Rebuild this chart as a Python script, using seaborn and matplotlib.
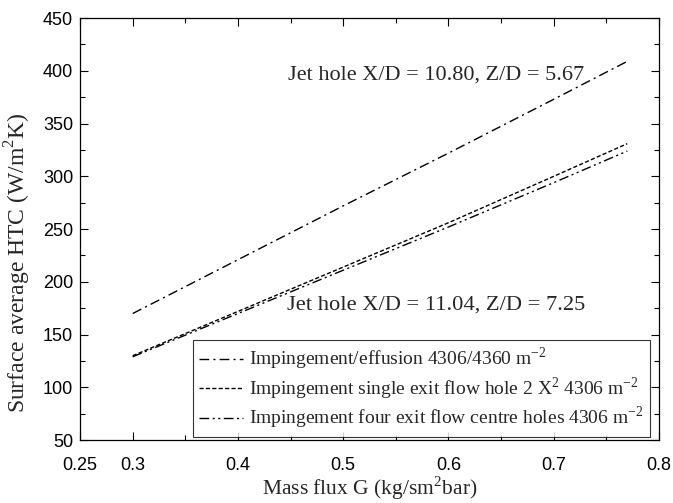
import numpy as np
import pandas as pd
import matplotlib
matplotlib.use("Agg")
import matplotlib.pyplot as plt
import seaborn as sns
from matplotlib.ticker import MultipleLocator

# Mass flux G (kg/sm^2bar)
mass_flux = [0.30, 0.40, 0.50, 0.60, 0.70, 0.77]
# Surface average HTC (W/m^2K)
htc_effusion = [170, 221, 272, 322, 373, 409]
htc_single_exit = [130, 172, 214, 256, 300, 331]
htc_four_exit = [129, 170, 211, 252, 294, 324]

labels = [
    r"Impingement/effusion 4306/4360 m$^{-2}$",
    r"Impingement single exit flow hole 2 X$^{2}$ 4306 m$^{-2}$",
    r"Impingement four exit flow centre holes 4306 m$^{-2}$",
]

frames = []
for lab, vals in zip(labels, [htc_effusion, htc_single_exit, htc_four_exit]):
    frames.append(pd.DataFrame({"G": mass_flux, "HTC": vals, "case": lab}))
df = pd.concat(frames, ignore_index=True)

sns.set_theme(style="ticks")
plt.rcParams["font.family"] = ["Liberation Sans", "DejaVu Sans"]
plt.rcParams["mathtext.fontset"] = "custom"
plt.rcParams["mathtext.rm"] = "Liberation Serif"

fig = plt.figure(figsize=(6.73, 5.03), dpi=100)
ax = fig.add_axes([0.119, 0.125, 0.860, 0.839])

dashes = {
    labels[0]: (7, 3, 1.5, 3),
    labels[1]: (3, 1.6),
    labels[2]: (7, 2.5, 1.5, 2.5, 1.5, 2.5),
}
sns.lineplot(data=df, x="G", y="HTC", hue="case", style="case",
             palette=["black"] * 3, dashes=dashes, linewidth=1.0,
             ax=ax, legend=True)

ax.set_xlim(0.25, 0.8)
ax.set_ylim(50, 450)
ax.set_xticks([0.25, 0.3, 0.4, 0.5, 0.6, 0.7, 0.8])
ax.set_xticklabels(["0.25", "0.3", "0.4", "0.5", "0.6", "0.7", "0.8"])
ax.xaxis.set_minor_locator(MultipleLocator(0.05))
ax.yaxis.set_major_locator(MultipleLocator(50))
ax.yaxis.set_minor_locator(MultipleLocator(25))
ax.tick_params(which="both", direction="in", top=True, right=True,
               labelsize=13, colors="black", width=0.8)
ax.tick_params(which="major", length=6)
ax.tick_params(which="minor", length=3.5)
ax.tick_params(axis="x", which="major", pad=12)
ax.tick_params(axis="y", which="major", pad=5)
for s in ax.spines.values():
    s.set_linewidth(0.9)
    s.set_color("black")

serif = ["Liberation Serif", "DejaVu Serif"]
ax.set_xlabel(r"Mass flux G (kg/sm$^{2}$bar)", family=serif, fontsize=15.5)
ax.xaxis.set_label_coords(0.5, -0.082)
ax.set_ylabel(r"Surface average HTC (W/m$^{2}$K)", family=serif, fontsize=17)
ax.yaxis.set_label_coords(-0.082, 0.42)

ax.text(0.448, 396, "Jet hole X/D = 10.80, Z/D = 5.67", family=serif, fontsize=16,
        ha="left", va="center")
ax.text(0.447, 178, "Jet hole X/D = 11.04, Z/D = 7.25", family=serif, fontsize=16.2,
        ha="left", va="center")

handles, labs = ax.get_legend_handles_labels()
leg = ax.legend(handles, labs, loc="lower right", bbox_to_anchor=(0.984, 0.007),
                frameon=True, fancybox=False, edgecolor="black",
                prop={"family": serif, "size": 14},
                handlelength=2.3, borderaxespad=0, borderpad=0.3,
                labelspacing=0.15, handletextpad=0.3)
leg.get_frame().set_linewidth(0.8)

fig.savefig("out.png", dpi=100, facecolor="white")
